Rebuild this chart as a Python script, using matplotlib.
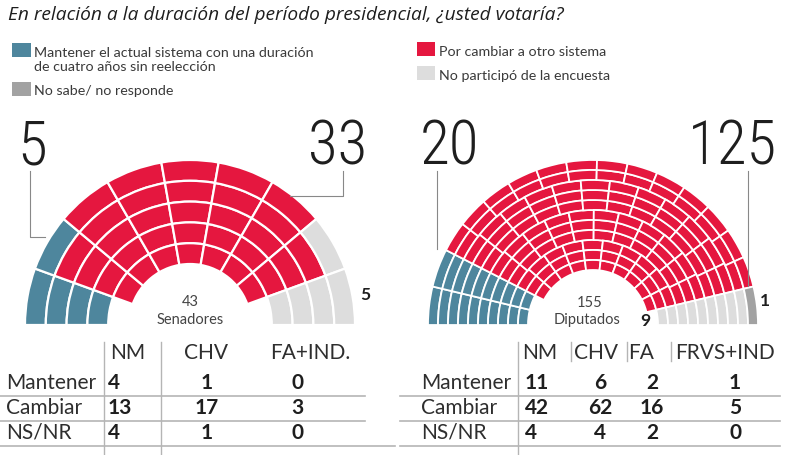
import matplotlib.pyplot as plt
from matplotlib.patches import Wedge

# --- data ---
parts = ['Mantener', 'Cambiar', 'No participó', 'NS/NR']
senado_seats = [5, 33, 5, 0]
diputados_seats = [20, 125, 9, 1]

senado_big = ['5', '33']
diputados_big = ['20', '125']

row_labels = ['Mantener', 'Cambiar', 'NS/NR']
senado_cols = ['NM', 'CHV', 'FA+IND.']
senado_table = [[4, 1, 0], [13, 17, 3], [4, 1, 0]]
diputados_cols = ['NM', 'CHV', 'FA', 'FRVS+IND']
diputados_table = [[11, 6, 2, 1], [42, 62, 16, 5], [4, 4, 2, 0]]

legend_left = ['Mantener el actual sistema con una duración',
               'de cuatro años sin reelección',
               'No sabe/ no responde']
legend_right = ['Por cambiar a otro sistema', 'No participó de la encuesta']

title = 'En relación a la duración del período presidencial, ¿usted votaría?'

# --- style ---
BLUE = '#4e869d'
RED = '#e5173f'
LGRAY = '#dddddd'
DGRAY = '#a2a2a2'
LINE = '#b5b5b5'
FONT = ['Lato', 'DejaVu Sans']
NARROW = ['Roboto Condensed', 'DejaVu Sans Condensed', 'Liberation Sans Narrow',
          'Roboto', 'DejaVu Sans']
seat_colors = [BLUE, RED, LGRAY, DGRAY]

W, H = 787, 456
fig = plt.figure(figsize=(W / 100, H / 100), dpi=100)
ax = fig.add_axes([0, 0, 1, 1])
ax.set_xlim(0, W)
ax.set_ylim(H, 0)
ax.axis('off')


def seat_layout(n_rings, r_out, r_in, side_left, side_right, side_width, side_rings, middle_counts):
    """Seats as (angle_hi, angle_lo, outer radius, ring), ordered left to right."""
    pitch = (r_out - r_in) / n_rings
    seats = []
    for c in range(side_left):
        a_hi = 180 - c * side_width
        for k in range(side_rings):
            seats.append((a_hi, a_hi - side_width, r_out - k * pitch, k))
    for c in range(side_right):
        a_lo = c * side_width
        for k in range(side_rings):
            seats.append((a_lo + side_width, a_lo, r_out - k * pitch, k))
    mid_hi = 180 - side_left * side_width
    mid_lo = side_right * side_width
    for k, n in enumerate(middle_counts):
        step = (mid_hi - mid_lo) / n
        for j in range(n):
            seats.append((mid_hi - j * step, mid_hi - (j + 1) * step, r_out - k * pitch, k))

    def key(s):
        mid = round((s[0] + s[1]) / 2, 2)
        return (-mid, s[3] if mid >= 90 else -s[3])

    seats.sort(key=key)
    return seats, pitch


def draw_hemicycle(cx, cy, seats, pitch, counts, lw):
    colors = []
    for n, c in zip(counts, seat_colors):
        colors += [c] * n
    for (a_hi, a_lo, r, k), col in zip(seats, colors):
        ax.add_patch(Wedge((cx, cy), r, -a_hi, -a_lo, width=pitch,
                           facecolor=col, edgecolor='white', lw=lw))


# Senado: 9 columns of 20 deg, 5 rings (innermost ring without the end columns)
s_seats, s_pitch = seat_layout(5, 165, 61, 1, 1, 20, 4, [7, 7, 7, 7, 7])
draw_hemicycle(190, 326, s_seats, s_pitch, senado_seats, 1.6)

# Diputados: 11 rings, side columns on rings 1-10
d_seats, d_pitch = seat_layout(11, 165, 55, 2, 1, 13.5, 10,
                               [13, 13, 12, 12, 12, 11, 11, 11, 10, 10, 10])
draw_hemicycle(593, 326, d_seats, d_pitch, diputados_seats, 1.3)

# --- title and legend ---
ax.text(8, 20, title, fontsize=13.8, style='italic', color='#1e1e1e',
        family=['Open Sans', 'DejaVu Sans'])

leg_kw = dict(fontsize=10.3, color='#3a3a3a', family=FONT, va='baseline')
ax.add_patch(plt.Rectangle((12, 44), 19, 14, color=BLUE, lw=0))
ax.text(34, 57, legend_left[0], **leg_kw)
ax.text(34, 71, legend_left[1], **leg_kw)
ax.add_patch(plt.Rectangle((12, 83), 19, 14, color=DGRAY, lw=0))
ax.text(34, 95, legend_left[2], **leg_kw)
ax.add_patch(plt.Rectangle((417, 43), 18, 14, color=RED, lw=0))
ax.text(439, 56, legend_right[0], **leg_kw)
ax.add_patch(plt.Rectangle((417, 67), 18, 14, color=LGRAY, lw=0))
ax.text(439, 80, legend_right[1], **leg_kw)

# --- big numbers with leader lines ---
big_kw = dict(fontsize=44, color='#1e1e1e', family=NARROW, fontstretch='condensed',
              fontweight='light', va='baseline')
ax.text(17, 165, senado_big[0], ha='left', **big_kw)
ax.text(367, 165, senado_big[1], ha='right', **big_kw)
ax.text(420, 165, diputados_big[0], ha='left', **big_kw)
ax.text(777, 165, diputados_big[1], ha='right', **big_kw)
ax.plot([30, 30, 45], [172, 238, 238], color='#888888', lw=0.8)
ax.plot([343, 343, 290], [172, 197, 197], color='#888888', lw=0.8)
ax.plot([437, 437], [172, 250], color='#888888', lw=0.8)
ax.plot([748, 748], [172, 287], color='#888888', lw=0.8)

# small counts
small_kw = dict(fontsize=12.5, fontweight='bold', color='#1e1e1e', family=FONT,
                ha='center', va='center')
ax.text(365, 295, str(senado_seats[2]), **small_kw)
ax.text(645, 321, str(diputados_seats[2]), **small_kw)
ax.text(765, 301, str(diputados_seats[3]), **small_kw)

center_kw = dict(fontsize=10.5, color='#444444', family=FONT, ha='center', va='center')
ax.text(190, 302, str(sum(senado_seats)), **center_kw)
ax.text(190, 320, 'Senadores', **center_kw)
ax.text(590, 303, str(sum(diputados_seats)), **center_kw)
ax.text(587, 320, 'Diputados', **center_kw)

# --- tables ---
row_y = [383, 408, 433]
line_y = [397, 422, 447]
hdr_kw = dict(fontsize=15, color='#2e2e2e', family=FONT, va='center')
val_kw = dict(fontsize=15, fontweight='bold', color='#1e1e1e', family=FONT, va='center')


def draw_table(x_label, col_x, col_ha, head_x, sep_full, sep_head, cols, values, x0, x1, x1_last):
    for j, name in enumerate(cols):
        ax.text(head_x[j], 353, name, ha='center', **hdr_kw)
    for i, lab in enumerate(row_labels):
        ax.text(x_label, row_y[i], lab, ha='left', **hdr_kw)
        for j, v in enumerate(values[i]):
            ax.text(col_x[j], row_y[i], str(v), ha=col_ha[j], **val_kw)
    for i, y in enumerate(line_y):
        ax.plot([x0, x1_last if i == 2 else x1], [y, y], color=LINE, lw=1.2)
    for x in sep_full:
        ax.plot([x, x], [343, 455], color=LINE, lw=1.0)
    for x in sep_head:
        ax.plot([x, x], [343, 362], color=LINE, lw=1.0)


draw_table(6, [108, 207, 297], ['left', 'center', 'center'], [128, 206, 310],
           [104, 161], [], senado_cols, senado_table, 0, 365, 395)
draw_table(421, [525, 600, 652, 735], ['left', 'center', 'center', 'center'],
           [540, 596, 641, 725], [518], [571, 627, 671],
           diputados_cols, diputados_table, 400, 780, 780)

fig.savefig('out.png', dpi=100)
